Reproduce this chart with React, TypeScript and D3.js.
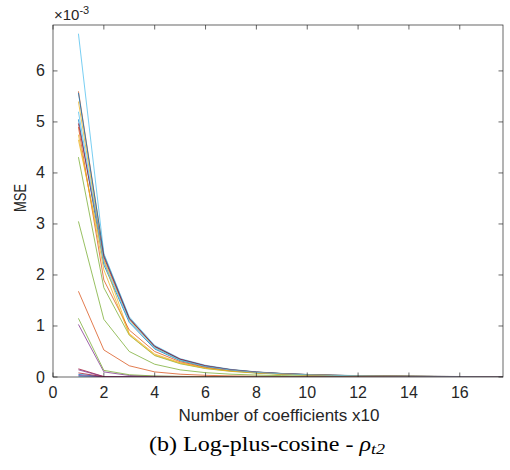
import React from "react";
import * as d3 from "d3";

// x positions (number of coefficients / 10)
const coeffs = [1, 2, 3, 4, 5, 6, 7, 8, 9, 10, 11, 12, 13, 14, 15, 16, 17, 18];

// MATLAB default colour order
const palette = ["#0072BD", "#D95319", "#EDB120", "#7E2F8E", "#77AC30", "#4DBEEE", "#A2142F"];

// MSE values in units of 1e-3, one array per run (in plot order)
const s01 = [5.05, 2.2, 1.07, 0.55, 0.32, 0.2, 0.13, 0.088, 0.061, 0.044, 0.031, 0.023, 0.017, 0.013, 0.01, 0.0085, 0.007, 0.0056];
const s02 = [5.6, 2.4, 1.16, 0.6, 0.35, 0.22, 0.145, 0.098, 0.068, 0.048, 0.035, 0.026, 0.019, 0.015, 0.012, 0.0095, 0.008, 0.0065];
const s03 = [5.4, 2.3, 1.12, 0.58, 0.335, 0.21, 0.138, 0.093, 0.065, 0.046, 0.033, 0.025, 0.018, 0.014, 0.011, 0.009, 0.0072, 0.006];
const s04 = [1.03, 0.1, 0.03, 0.015, 0.01, 0.007, 0.005, 0.0035, 0.0027, 0.002, 0.0016, 0.0013, 0.0011, 0.0009, 0.0008, 0.0007, 0.0006, 0.0005];
const s05 = [4.31, 1.75, 0.82, 0.42, 0.26, 0.165, 0.11, 0.077, 0.054, 0.039, 0.028, 0.021, 0.016, 0.012, 0.0095, 0.0077, 0.0062, 0.005];
const s06 = [6.73, 2.42, 1.18, 0.62, 0.36, 0.23, 0.15, 0.1, 0.07, 0.05, 0.036, 0.027, 0.02, 0.015, 0.012, 0.01, 0.008, 0.007];
const s07 = [0.16, 0.008, 0.004, 0.003, 0.002, 0.0015, 0.001, 0.0008, 0.0007, 0.0006, 0.0005, 0.0004, 0.0004, 0.0003, 0.0003, 0.0002, 0.0002, 0.0002];
const s08 = [5.57, 2.38, 1.15, 0.6, 0.345, 0.215, 0.14, 0.095, 0.066, 0.047, 0.034, 0.025, 0.019, 0.014, 0.011, 0.009, 0.0075, 0.006];
const s09 = [1.68, 0.53, 0.22, 0.1, 0.055, 0.033, 0.022, 0.015, 0.011, 0.008, 0.006, 0.0046, 0.0036, 0.0029, 0.0023, 0.0019, 0.0016, 0.0014];
const s10 = [4.65, 2.28, 0.85, 0.45, 0.28, 0.18, 0.12, 0.082, 0.057, 0.041, 0.03, 0.022, 0.016, 0.012, 0.01, 0.008, 0.0065, 0.0053];
const s11 = [0.14, 0.006, 0.003, 0.002, 0.0015, 0.001, 0.0008, 0.0007, 0.0006, 0.0005, 0.0004, 0.0004, 0.0003, 0.0003, 0.0002, 0.0002, 0.0002, 0.0002];
const s12 = [3.05, 1.13, 0.5, 0.25, 0.14, 0.085, 0.055, 0.038, 0.027, 0.02, 0.015, 0.011, 0.0085, 0.0066, 0.0052, 0.0042, 0.0035, 0.003];
const s13 = [0.01, 0.002, 0.001, 0.0008, 0.0006, 0.0005, 0.0004, 0.0003, 0.0003, 0.0002, 0.0002, 0.0002, 0.0001, 0.0001, 0.0001, 0.0001, 0.0001, 0.0001];
const s14 = [4.97, 2.35, 1.14, 0.6, 0.35, 0.22, 0.142, 0.096, 0.067, 0.048, 0.034, 0.025, 0.019, 0.014, 0.011, 0.009, 0.0075, 0.006];
const s15 = [0.05, 0.004, 0.002, 0.0015, 0.001, 0.0008, 0.0006, 0.0005, 0.0004, 0.0004, 0.0003, 0.0003, 0.0002, 0.0002, 0.0002, 0.0002, 0.0001, 0.0001];
const s16 = [4.9, 1.9, 0.92, 0.5, 0.3, 0.19, 0.125, 0.085, 0.06, 0.043, 0.031, 0.023, 0.017, 0.013, 0.01, 0.0083, 0.0068, 0.0055];
const s17 = [4.75, 2.1, 0.83, 0.43, 0.27, 0.17, 0.115, 0.08, 0.056, 0.04, 0.029, 0.021, 0.016, 0.012, 0.0095, 0.0078, 0.0063, 0.0052];
const s18 = [0.03, 0.003, 0.0015, 0.001, 0.0008, 0.0006, 0.0005, 0.0004, 0.0003, 0.0003, 0.0002, 0.0002, 0.0002, 0.0001, 0.0001, 0.0001, 0.0001, 0.0001];
const s19 = [1.15, 0.13, 0.045, 0.02, 0.012, 0.008, 0.006, 0.004, 0.003, 0.0025, 0.002, 0.0016, 0.0013, 0.0011, 0.0009, 0.0008, 0.0007, 0.0006];
const s20 = [5.2, 2.25, 1.1, 0.57, 0.33, 0.205, 0.135, 0.09, 0.063, 0.045, 0.032, 0.024, 0.018, 0.014, 0.011, 0.0088, 0.007, 0.0058];
const s21 = [0.08, 0.005, 0.002, 0.0015, 0.001, 0.0008, 0.0006, 0.0005, 0.0004, 0.0004, 0.0003, 0.0003, 0.0002, 0.0002, 0.0002, 0.0002, 0.0001, 0.0001];

const series = [s01, s02, s03, s04, s05, s06, s07, s08, s09, s10, s11, s12, s13, s14, s15, s16, s17, s18, s19, s20, s21];

const xTicks = [0, 2, 4, 6, 8, 10, 12, 14, 16];
const yTicks = [0, 1, 2, 3, 4, 5, 6];

const W = 510, H = 470;
const left = 53, right = 503, top = 25, bottom = 377;
const axisColor = "#262626";
const font = "'Liberation Sans', Arial, sans-serif";

export default function App() {
  const x = d3.scaleLinear().domain([0, 17.7]).range([left, right]);
  const y = d3.scaleLinear().domain([0, 6.9]).range([bottom, top]);

  const line = d3
    .line<number>()
    .x((d, i) => x(coeffs[i]))
    .y((d) => y(d));

  return (
    <svg width={W} height={H} style={{ position: "absolute", left: 0, top: 0, background: "#fff" }}>
      <defs>
        <clipPath id="plot-clip">
          <rect x={left} y={top} width={right - left} height={bottom - top} />
        </clipPath>
      </defs>

      <g clipPath="url(#plot-clip)">
        {series.map((s, i) => (
          <path key={i} d={line(s) || ""} fill="none" stroke={palette[i % palette.length]} strokeWidth={0.9} strokeOpacity={0.85} />
        ))}
      </g>

      {/* box */}
      <rect x={left} y={top} width={right - left} height={bottom - top} fill="none" stroke={axisColor} strokeWidth={0.7} />

      {/* x ticks */}
      {xTicks.map((t) => (
        <g key={"x" + t}>
          <line x1={x(t)} x2={x(t)} y1={bottom} y2={bottom - 4.5} stroke={axisColor} strokeWidth={0.7} />
          <line x1={x(t)} x2={x(t)} y1={top} y2={top + 4.5} stroke={axisColor} strokeWidth={0.7} />
          <text x={x(t)} y={398} textAnchor="middle" fontFamily={font} fontSize={16} fill={axisColor}>
            {t}
          </text>
        </g>
      ))}

      {/* y ticks */}
      {yTicks.map((t) => (
        <g key={"y" + t}>
          <line x1={left} x2={left + 4.5} y1={y(t)} y2={y(t)} stroke={axisColor} strokeWidth={0.7} />
          <line x1={right} x2={right - 4.5} y1={y(t)} y2={y(t)} stroke={axisColor} strokeWidth={0.7} />
          <text x={left - 8} y={y(t) + 5.5} textAnchor="end" fontFamily={font} fontSize={16} fill={axisColor}>
            {t}
          </text>
        </g>
      ))}

      {/* exponent */}
      <text x={left + 1} y={20} fontFamily={font} fontSize={15} fill={axisColor}>
        ×10
        <tspan dy={-6} fontSize={11}>-3</tspan>
      </text>

      <text
        transform={`translate(26,198) rotate(-90)`}
        textAnchor="middle"
        fontFamily={font}
        fontSize={16}
        textLength={28}
        lengthAdjust="spacingAndGlyphs"
        fill={axisColor}
      >
        MSE
      </text>

      <text x={(left + right) / 2 + 1} y={421} textAnchor="middle" fontFamily={font} fontSize={17} fill={axisColor}>
        Number of coefficients x10
      </text>

      <text
        x={149}
        y={451}
        fontFamily="'Liberation Serif', 'DejaVu Serif', serif"
        fontSize={20}
        textLength={236}
        lengthAdjust="spacingAndGlyphs"
        fill="#000"
      >
        (b) Log-plus-cosine -{" "}
        <tspan fontStyle="italic">ρ</tspan>
        <tspan fontStyle="italic" fontSize={15} dy={3}>t2</tspan>
      </text>
    </svg>
  );
}
